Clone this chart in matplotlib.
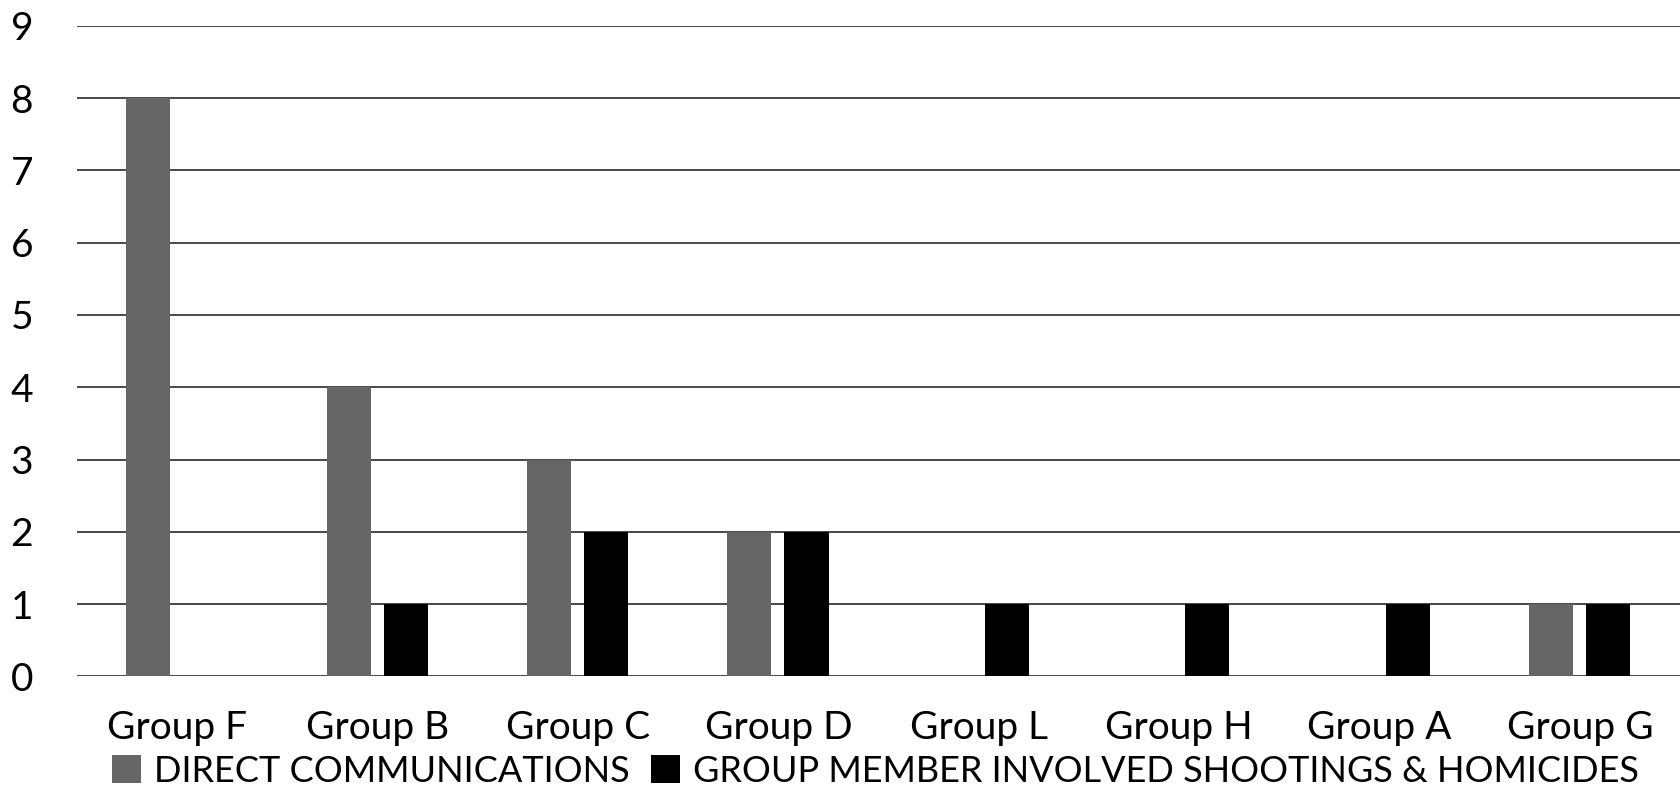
import matplotlib
matplotlib.use("Agg")
import matplotlib.pyplot as plt
import numpy as np

groups = ["Group F", "Group B", "Group C", "Group D", "Group L", "Group H", "Group A", "Group G"]
direct = [8, 4, 3, 2, 0, 0, 0, 1]
shootings = [0, 1, 2, 2, 1, 1, 1, 1]
labels = ["DIRECT COMMUNICATIONS", "GROUP MEMBER INVOLVED SHOOTINGS & HOMICIDES"]

plt.rcParams['font.family'] = ['Lato', 'DejaVu Sans']

fig = plt.figure(figsize=(16.8, 8.09), dpi=100)
ax = fig.add_axes([0.046, 0.164, 0.954, 0.804])

x = np.arange(len(groups))
w = 0.22
ax.bar(x - 0.145, direct, w, color="#666666", label=labels[0], zorder=3)
ax.bar(x + 0.14, shootings, w, color="black", label=labels[1], zorder=3)

ax.set_xlim(-0.5, len(groups) - 0.5)
ax.set_ylim(0, 9)
ax.set_yticks(range(10))
ax.yaxis.grid(True, color="#3a3a3a", linewidth=1.3, zorder=0)
ax.set_axisbelow(True)
for s in ax.spines.values():
    s.set_visible(False)
ax.tick_params(axis='both', length=0, labelsize=28)
ax.tick_params(axis='y', pad=48)
ax.tick_params(axis='x', pad=24)
for t in ax.get_yticklabels():
    t.set_horizontalalignment('left')
ax.set_xticks(x)
ax.set_xticklabels(groups)

fig.legend(loc='lower center', bbox_to_anchor=(0.521, -0.014), ncol=2, frameon=False,
           fontsize=26, handlelength=0.8, handleheight=0.8, handletextpad=0.35,
           columnspacing=0.6)

fig.savefig("out.png", dpi=100, facecolor="white")
